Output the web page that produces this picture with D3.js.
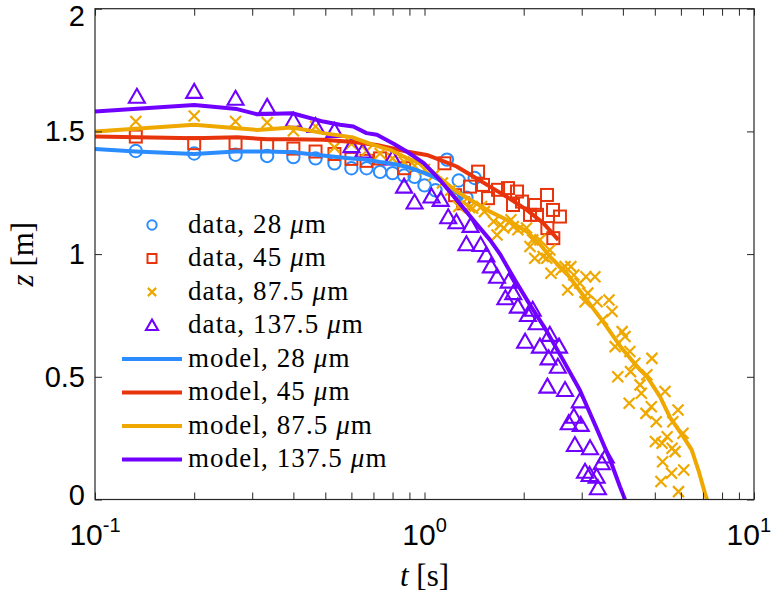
<!DOCTYPE html>
<html><head><meta charset="utf-8">
<script src="https://cdn.jsdelivr.net/npm/d3@7"></script>
<style>body{margin:0;background:#fff}</style>
</head><body>
<svg id="c" width="773" height="595"></svg>
<script>
// ---------------- data (t [s], z [m]) ----------------
const data28 = [[0.133,1.42],[0.2,1.41],[0.267,1.405],[0.333,1.40],[0.4,1.395],[0.467,1.39],[0.533,1.37],[0.6,1.35],[0.667,1.35],[0.733,1.335],[0.8,1.33],[0.867,1.32],[0.933,1.315],[1.0,1.28],[1.08,1.26],[1.17,1.385],[1.27,1.30],[1.34,1.23],[1.42,1.31]];
const data45 = [[0.133,1.479],[0.2,1.452],[0.267,1.452],[0.333,1.445],[0.4,1.43],[0.467,1.418],[0.533,1.408],[0.6,1.388],[0.667,1.38],[0.733,1.39],[0.867,1.35],[1.15,1.37],[1.238,1.24],[1.31,1.207],[1.374,1.275],[1.454,1.336],[1.505,1.282],[1.559,1.228],[1.672,1.262],[1.792,1.269],[1.856,1.20],[1.909,1.255],[1.977,1.214],[2.09,1.16],[2.164,1.20],[2.195,1.16],[2.354,1.241],[2.455,1.18],[2.577,1.153],[2.36,1.106],[2.46,1.065]];
const data875 = [[0.133,1.54],[0.2,1.563],[0.267,1.54],[0.333,1.536],[0.4,1.503],[0.467,1.52],[0.533,1.435],[0.6,1.45],[0.667,1.42],[0.733,1.41],[0.8,1.39],[0.867,1.375],[0.933,1.36],[1.0,1.345],[1.067,1.32],[1.133,1.29],[1.2,1.26],[1.27,1.194],[1.31,1.21],[1.37,1.19],[1.40,1.187],[1.49,1.194],[1.52,1.173],[1.62,1.133],[1.66,1.078],[1.70,1.119],[1.74,1.106],[1.83,1.14],[1.86,1.112],[1.92,1.099],[2.04,1.106],[2.09,1.031],[2.13,1.058],[2.16,0.983],[2.24,1.058],[2.29,0.99],[2.35,0.983],[2.40,1.017],[2.42,0.922],[2.60,0.936],[2.67,0.949],[2.72,0.854],[2.78,0.949],[2.84,0.915],[2.96,0.881],[3.09,0.908],[3.13,0.841],[3.07,0.806],[3.29,0.908],[3.34,0.806],[3.63,0.813],[3.71,0.766],[3.47,0.732],[3.98,0.684],[4.06,0.664],[3.79,0.623],[4.20,0.603],[4.35,0.555],[4.90,0.575],[3.86,0.50],[4.22,0.521],[4.73,0.508],[4.51,0.467],[4.55,0.433],[4.18,0.392],[5.37,0.44],[4.88,0.378],[4.70,0.351],[5.05,0.317],[5.88,0.365],[5.67,0.317],[6.09,0.27],[5.02,0.236],[5.26,0.229],[5.45,0.256],[5.64,0.209],[5.76,0.195],[5.28,0.154],[5.62,0.107],[6.12,0.12],[5.22,0.073],[5.90,0.032]];
const data1375 = [[0.134,1.641],[0.2,1.661],[0.267,1.633],[0.333,1.60],[0.4,1.543],[0.467,1.522],[0.533,1.502],[0.6,1.44],[0.65,1.418],[0.8,1.39],[0.867,1.275],[0.933,1.21],[1.05,1.235],[1.12,1.221],[1.18,1.15],[1.25,1.13],[1.38,1.115],[1.34,1.04],[1.48,1.037],[1.54,0.995],[1.59,0.95],[1.66,0.908],[1.80,0.888],[1.76,0.82],[1.86,0.841],[1.92,0.786],[2.06,0.752],[2.13,0.773],[2.19,0.718],[2.02,0.643],[2.24,0.623],[2.40,0.671],[2.38,0.575],[2.56,0.623],[2.54,0.541],[2.36,0.46],[2.67,0.446],[2.96,0.40],[2.84,0.337],[2.74,0.311],[2.98,0.304],[2.86,0.222],[3.18,0.209],[3.55,0.175],[3.45,0.148],[3.07,0.113],[3.17,0.10],[3.33,0.093],[3.36,0.046]];

const model28 = [[0.1,1.428],[0.133,1.418],[0.2,1.408],[0.267,1.418],[0.333,1.418],[0.4,1.415],[0.467,1.405],[0.533,1.397],[0.6,1.39],[0.667,1.385],[0.733,1.375],[0.8,1.368],[0.867,1.358],[0.933,1.345],[1.0,1.33],[1.067,1.315],[1.133,1.295],[1.2,1.27],[1.267,1.245],[1.3,1.22]];
const model45 = [[0.1,1.479],[0.2,1.472],[0.27,1.476],[0.333,1.468],[0.397,1.468],[0.493,1.466],[0.608,1.457],[0.716,1.445],[0.883,1.418],[1.016,1.404],[1.114,1.384],[1.252,1.357],[1.406,1.316],[1.58,1.275],[1.776,1.234],[2.043,1.18],[2.294,1.126],[2.548,1.058]];
const model875 = [[0.1,1.50],[0.2,1.527],[0.27,1.513],[0.31,1.506],[0.397,1.516],[0.493,1.493],[0.608,1.475],[0.699,1.445],[0.786,1.425],[0.883,1.391],[0.995,1.364],[1.114,1.31],[1.252,1.255],[1.406,1.214],[1.58,1.173],[1.776,1.14],[2.043,1.092],[2.241,1.04],[2.403,0.99],[2.70,0.922],[3.05,0.827],[3.47,0.728],[3.95,0.62],[4.51,0.528],[4.74,0.50],[5.185,0.419],[5.56,0.335],[6.10,0.256],[6.47,0.202],[6.78,0.12],[7.10,0.025],[7.20,0]];
const model1375 = [[0.1,1.581],[0.2,1.608],[0.27,1.591],[0.31,1.57],[0.397,1.574],[0.493,1.54],[0.554,1.527],[0.608,1.52],[0.667,1.493],[0.717,1.486],[0.806,1.45],[0.883,1.418],[0.995,1.371],[1.114,1.302],[1.252,1.221],[1.406,1.139],[1.58,1.058],[1.695,1.0],[1.88,0.895],[2.09,0.793],[2.34,0.69],[2.63,0.57],[2.96,0.446],[3.33,0.29],[3.66,0.161],[3.92,0.052],[4.06,0]];

const sizes = ["28","45","87.5","137.5"];
const colors = ["#2a8cff","#e8340c","#efa800","#7000ff"];
const markers = ["circle","square","cross","triangle"];
const yTicks = [0,0.5,1,1.5,2];
const yTickLabels = ["0","0.5","1","1.5","2"];
const xTickExps = [-1,0,1];

// ---------------- layout ----------------
const W=773, L=95, R=754, T=8.7, B=499.5;
const axisColor = "#262626";
const svg = d3.select("#c");
const x = d3.scaleLog().domain([0.1,10]).range([L,R]);
const y = d3.scaleLinear().domain([0,2]).range([B,T]);

svg.append("defs").append("clipPath").attr("id","clip")
  .append("rect").attr("x",L).attr("y",T).attr("width",R-L).attr("height",B-T);

function markerPath(g, type, color, s) {
  if (type==="circle") {
    g.append("circle").attr("r",6.2*s).attr("fill","none").attr("stroke",color).attr("stroke-width",2);
  } else if (type==="square") {
    g.append("rect").attr("x",-6*s).attr("y",-6*s).attr("width",12*s).attr("height",12*s)
     .attr("fill","none").attr("stroke",color).attr("stroke-width",2);
  } else if (type==="cross") {
    g.append("path").attr("d",`M${-5.5*s},${-5.5*s}L${5.5*s},${5.5*s}M${-5.5*s},${5.5*s}L${5.5*s},${-5.5*s}`)
     .attr("stroke",color).attr("stroke-width",2.2).attr("fill","none");
  } else {
    g.append("path").attr("d",`M0,${-8*s}L${8*s},${6*s}L${-8*s},${6*s}Z`)
     .attr("fill","none").attr("stroke",color).attr("stroke-width",2.1).attr("stroke-linejoin","miter");
  }
}

const plot = svg.append("g").attr("clip-path","url(#clip)");
const dataSets = [data28, data45, data875, data1375];
const modelSets = [model28, model45, model875, model1375];

dataSets.forEach((ds,i)=>{
  const g = plot.append("g");
  ds.forEach(d=>{
    const m = g.append("g").attr("transform",`translate(${x(d[0])},${y(d[1])})`);
    markerPath(m, markers[i], colors[i], 1);
  });
});

const line = d3.line().x(d=>x(d[0])).y(d=>y(d[1]));
modelSets.forEach((ms,i)=>{
  plot.append("path").datum(ms).attr("d",line).attr("fill","none")
    .attr("stroke",colors[i]).attr("stroke-width",4).attr("stroke-linejoin","round");
});

// ---------------- axes ----------------
const xMinor = [];
[-1,0].forEach(e=>{ for(let m=1;m<=9;m++) xMinor.push(m*Math.pow(10,e)); });
xMinor.push(10);

const axB = svg.append("g").attr("transform",`translate(0,${B})`)
  .call(d3.axisBottom(x).tickValues(xMinor).tickSize(-7).tickFormat(""));
const axT = svg.append("g").attr("transform",`translate(0,${T})`)
  .call(d3.axisTop(x).tickValues(xMinor).tickSize(-7).tickFormat(""));
const axL = svg.append("g").attr("transform",`translate(${L},0)`)
  .call(d3.axisLeft(y).tickValues(yTicks).tickSize(-7).tickPadding(10).tickFormat((d,i)=>yTickLabels[i]));
const axR = svg.append("g").attr("transform",`translate(${R},0)`)
  .call(d3.axisRight(y).tickValues(yTicks).tickSize(-7).tickFormat(""));
[axB,axT,axL,axR].forEach(a=>{
  a.select(".domain").remove();
  a.selectAll(".tick line").attr("stroke",axisColor).attr("stroke-width",1);
});
axL.selectAll(".tick text").attr("font-family","'Liberation Sans', Arial, sans-serif")
  .attr("font-size",29).attr("fill","#000")
  .attr("y",d=> d===2 ? 8 : (d===0 ? -4 : 0));

svg.append("rect").attr("x",L).attr("y",T).attr("width",R-L).attr("height",B-T)
  .attr("fill","none").attr("stroke",axisColor).attr("stroke-width",1.2);

// x tick labels 10^e (kept inside the picture)
xTickExps.forEach(e=>{
  const t = svg.append("text").attr("x",x(Math.pow(10,e))).attr("y",545)
    .attr("text-anchor","middle").attr("font-family","'Liberation Sans', Arial, sans-serif")
    .attr("font-size",30).attr("fill","#000");
  t.append("tspan").text("10");
  t.append("tspan").attr("dy",-13).attr("font-size",20).text(String(e));
  const bb = t.node().getBBox();
  if (bb.x + bb.width > W - 2) t.attr("x", +t.attr("x") - (bb.x + bb.width - (W - 2)));
});

// axis labels
const serif = "'Liberation Serif','Times New Roman',serif";
const xl = svg.append("text").attr("x",(L+R)/2).attr("y",586).attr("text-anchor","middle")
  .attr("font-family",serif).attr("font-size",31).attr("fill","#000");
xl.append("tspan").attr("font-style","italic").text("t");
xl.append("tspan").text(" [s]");

const yl = svg.append("text").attr("transform",`translate(33,${(T+B)/2}) rotate(-90)`)
  .attr("text-anchor","middle").attr("font-family",serif).attr("font-size",31).attr("fill","#000");
yl.append("tspan").attr("font-style","italic").text("z");
yl.append("tspan").text(" [m]");

// ---------------- legend ----------------
const leg = svg.append("g");
const rowY0 = 225, rowDY = 33.5;
const labels = [];
sizes.forEach((s,i)=>labels.push({kind:"data", size:s, i}));
sizes.forEach((s,i)=>labels.push({kind:"model", size:s, i}));
labels.forEach((d,k)=>{
  const cy = rowY0 + k*rowDY;
  if (d.kind==="data") {
    const m = leg.append("g").attr("transform",`translate(152,${cy})`);
    markerPath(m, markers[d.i], colors[d.i], 0.75);
  } else {
    leg.append("line").attr("x1",122).attr("x2",182).attr("y1",cy).attr("y2",cy)
      .attr("stroke",colors[d.i]).attr("stroke-width",4);
  }
  const t = leg.append("text").attr("x",188).attr("y",cy+7.5)
    .attr("font-family",serif).attr("font-size",27).attr("letter-spacing",1.1).attr("fill","#000");
  t.append("tspan").text(`${d.kind}, ${d.size} `);
  t.append("tspan").attr("font-style","italic").text("\u03bc");
  t.append("tspan").text("m");
});
</script>
</body></html>
